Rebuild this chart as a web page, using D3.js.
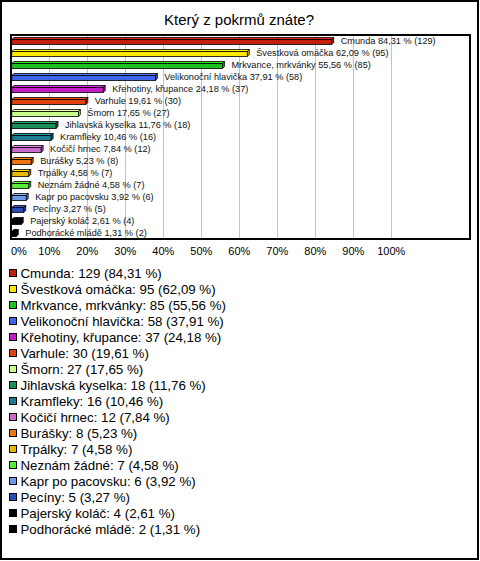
<!DOCTYPE html>
<html><head><meta charset="utf-8">
<script src="https://cdn.jsdelivr.net/npm/d3@7"></script>
<style>body{margin:0;background:#fff}svg{display:block;font-family:"Liberation Sans",Arial,sans-serif}</style>
</head><body><svg id="c" width="480" height="561"></svg>
<script>
const title = "Který z pokrmů znáte?";
const categories = ["Cmunda","Švestková omáčka","Mrkvance, mrkvánky","Velikonoční hlavička","Křehotiny, křupance","Varhule","Šmorn","Jihlavská kyselka","Kramfleky","Kočičí hrnec","Burášky","Trpálky","Neznám žádné","Kapr po pacovsku","Pecíny","Pajerský koláč","Podhorácké mládě"];
const counts = [129,95,85,58,37,30,27,18,16,12,8,7,7,6,5,4,2];
const percents = [84.31,62.09,55.56,37.91,24.18,19.61,17.65,11.76,10.46,7.84,5.23,4.58,4.58,3.92,3.27,2.61,1.31];
const colors = ["#c41e0c","#ffe800","#1ec21e","#4064ea","#c01cc8","#e2400e","#c8ff88","#1a9058","#1a7c8e","#cc6acc","#ee7612","#e6b800","#56ee36","#6c9ae8","#2a4cb4","#000000","#000000"];
const tickValues = [0,10,20,30,40,50,60,70,80,90,100];

const fmt = v => v.toFixed(2).replace(".", ",");
const data = categories.map((c,i)=>({name:c,count:counts[i],pct:percents[i],color:colors[i]}));

const svg = d3.select("#c");
svg.append("rect").attr("x",1).attr("y",1).attr("width",477).attr("height",558)
  .attr("fill","#fff").attr("stroke","#000").attr("stroke-width",2);

svg.append("text").attr("x",239).attr("y",25).attr("text-anchor","middle")
  .attr("font-size",15).attr("fill","#000").text(title);

const x = d3.scaleLinear().domain([0,100]).range([11.3,391.3]);
const y = d3.scaleBand().domain(categories).range([35,239]).paddingInner(0).paddingOuter(0);

// gridlines
svg.append("g").selectAll("line").data(tickValues.filter(t=>t>0)).join("line")
  .attr("x1",d=>Math.round(x(d))+0.5).attr("x2",d=>Math.round(x(d))+0.5)
  .attr("y1",35).attr("y2",239).attr("stroke","#c4c4c4").attr("stroke-width",1);

// bars (3D look)
const dx = 2, dy = 2, h = 5;
const g = svg.append("g");
data.forEach(d=>{
  const x0 = x(0)+0.5, x1 = x(d.pct);
  const yc = y(d.name) + y.bandwidth()/2;
  const yt = yc - h/2 + 1;
  const c = d3.color(d.color);
  const light = d.color==="#000000" ? "#000" : c.brighter(0.5).formatHex();
  const dark = d.color==="#000000" ? "#000" : c.darker(0.6).formatHex();
  g.append("path").attr("d",`M${x0},${yt} L${x0+dx},${yt-dy} L${x1+dx},${yt-dy} L${x1},${yt} Z`)
    .attr("fill",light).attr("stroke","#000").attr("stroke-width",0.8);
  g.append("path").attr("d",`M${x1},${yt} L${x1+dx},${yt-dy} L${x1+dx},${yt+h-dy} L${x1},${yt+h} Z`)
    .attr("fill",dark).attr("stroke","#000").attr("stroke-width",0.8);
  g.append("rect").attr("x",x0).attr("y",yt).attr("width",Math.max(0,x1-x0)).attr("height",h)
    .attr("fill",d.color).attr("stroke","#000").attr("stroke-width",0.8);
  g.append("text").attr("x",x1+9).attr("y",yc+3).attr("font-size",9.2).attr("fill","#111")
    .text(`${d.name} ${fmt(d.pct)} % (${d.count})`);
});

// plot frame
svg.append("rect").attr("x",11).attr("y",35).attr("width",459).attr("height",204)
  .attr("fill","none").attr("stroke","#000").attr("stroke-width",2);

// x axis labels
const ax = svg.append("g").attr("transform","translate(0,255)");
ax.selectAll("text").data(tickValues).join("text")
  .attr("x",d=>d===0?11:x(d)).attr("text-anchor",d=>d===0?"start":"middle")
  .attr("font-size",11).attr("fill","#000").text(d=>d+"%");

// legend
const lg = svg.append("g");
data.forEach((d,i)=>{
  const yc = 273 + 16*i;
  lg.append("rect").attr("x",9.5).attr("y",yc-3.5).attr("width",7).attr("height",7)
    .attr("fill",d.color).attr("stroke","#000").attr("stroke-width",1);
  lg.append("text").attr("x",20.5).attr("y",yc+4.7).attr("font-size",13.3).attr("fill","#000")
    .text(`${d.name}: ${d.count} (${fmt(d.pct)} %)`);
});
</script></body></html>
